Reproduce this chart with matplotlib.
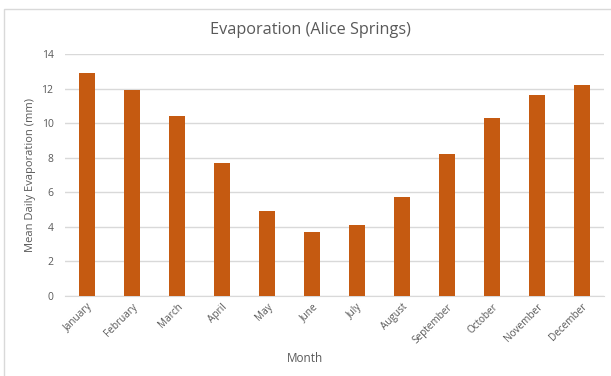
import matplotlib.pyplot as plt
from matplotlib.patches import Rectangle

months = ['January', 'February', 'March', 'April', 'May', 'June', 'July',
          'August', 'September', 'October', 'November', 'December']
evap = [12.9, 11.9, 10.4, 7.7, 4.9, 3.7, 4.1, 5.7, 8.2, 10.3, 11.6, 12.2]
yticks = [0, 2, 4, 6, 8, 10, 12, 14]

plt.rcParams['font.family'] = ['Open Sans', 'DejaVu Sans']
gris = '#595959'

fig = plt.figure(figsize=(6.11, 3.76), dpi=100)
ax = fig.add_axes([0.1056, 0.2128, 0.8836, 0.6436])

ax.bar(range(len(months)), evap, width=0.34, color='#c55a11', zorder=3)

ax.set_xlim(-0.5, len(months) - 0.5)
ax.set_ylim(0, 14)
ax.set_yticks(yticks)
ax.set_yticklabels([str(v) for v in yticks], fontsize=7.5, color=gris)
ax.set_xticks(range(len(months)))
ax.set_xticklabels(months, rotation=45, ha='right', rotation_mode='anchor',
                   fontsize=7.2, color=gris)
ax.tick_params(length=0, pad=8)
ax.tick_params(axis='x', pad=4)

ax.grid(axis='y', color='#d9d9d9', linewidth=1, zorder=0)
for s in ['top', 'right', 'left']:
    ax.spines[s].set_visible(False)
ax.spines['bottom'].set_color('#d9d9d9')

ax.set_ylabel('Mean Daily Evaporation (mm)', fontsize=8, color=gris, labelpad=4)
fig.text(0.5, 1 - 358 / 376, 'Month', ha='center', va='center', fontsize=8.5, color=gris)
fig.text(0.508, 1 - 30 / 376, 'Evaporation (Alice Springs)', ha='center', va='center',
         fontsize=11.7, color=gris)

# borde del grafico
fig.patches.append(Rectangle((4 / 611, -0.01), 1.0, 1 - 9 / 376 + 0.01,
                             transform=fig.transFigure, fill=False,
                             edgecolor='#d9d9d9', linewidth=1))

fig.savefig('out.png', dpi=100)
